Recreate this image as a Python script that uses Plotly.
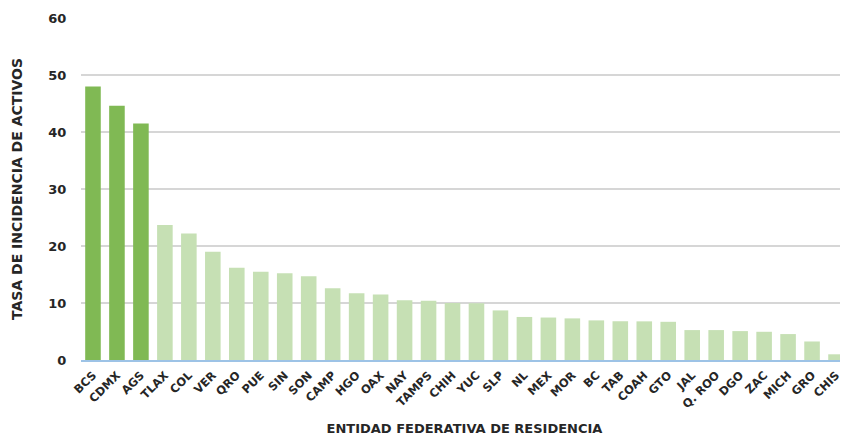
import plotly.graph_objects as go

estados = ["BCS", "CDMX", "AGS", "TLAX", "COL", "VER", "QRO", "PUE", "SIN", "SON",
           "CAMP", "HGO", "OAX", "NAY", "TAMPS", "CHIH", "YUC", "SLP", "NL", "MEX",
           "MOR", "BC", "TAB", "COAH", "GTO", "JAL", "Q. ROO", "DGO", "ZAC", "MICH",
           "GRO", "CHIS"]
tasa = [48.0, 44.6, 41.5, 23.7, 22.2, 19.0, 16.2, 15.5, 15.2, 14.7,
        12.6, 11.7, 11.5, 10.5, 10.4, 10.0, 9.95, 8.7, 7.55, 7.45,
        7.3, 6.95, 6.8, 6.78, 6.7, 5.25, 5.25, 5.07, 4.95, 4.55,
        3.25, 1.0]
destacados = ["BCS", "CDMX", "AGS"]

color_fuerte = "#80b954"
color_suave = "#c6e0b4"
colores = [color_fuerte if e in destacados else color_suave for e in estados]

FONT = "DejaVu Sans"
TXT = "#262626"

fig = go.Figure(go.Bar(
    x=estados, y=tasa, marker=dict(color=colores, line=dict(width=0)),
    hoverinfo="x+y",
))

fig.update_layout(
    width=840, height=428,
    margin=dict(l=73, r=0, t=10, b=76),
    paper_bgcolor="white", plot_bgcolor="white",
    bargap=0.35,
    showlegend=False,
    font=dict(family=FONT, color=TXT),
    xaxis=dict(
        range=[-0.5, 31.5],
        automargin=False,
        tickangle=-45,
        tickfont=dict(family=FONT, size=11.5, color=TXT, weight="bold"),
        showgrid=False,
        showline=True, linecolor="#9dc3e6", linewidth=2,
        ticks="outside", ticklen=2, tickcolor="rgba(0,0,0,0)",
        title=dict(text="ENTIDAD FEDERATIVA DE RESIDENCIA",
                   font=dict(family=FONT, size=13, color=TXT, weight="bold"),
                   standoff=14),
    ),
    yaxis=dict(
        range=[0, 60], dtick=10,
        automargin=False,
        tickfont=dict(family=FONT, size=13, color=TXT, weight="bold"),
        showgrid=True, gridcolor="#d6d6d6", gridwidth=1.5,
        zeroline=False, showline=False,
        ticks="outside", ticklen=11, tickcolor="rgba(0,0,0,0)",
        title=dict(text="TASA DE INCIDENCIA DE ACTIVOS",
                   font=dict(family=FONT, size=14, color=TXT, weight="bold"),
                   standoff=22),
    ),
)

fig.write_html("out.html")
